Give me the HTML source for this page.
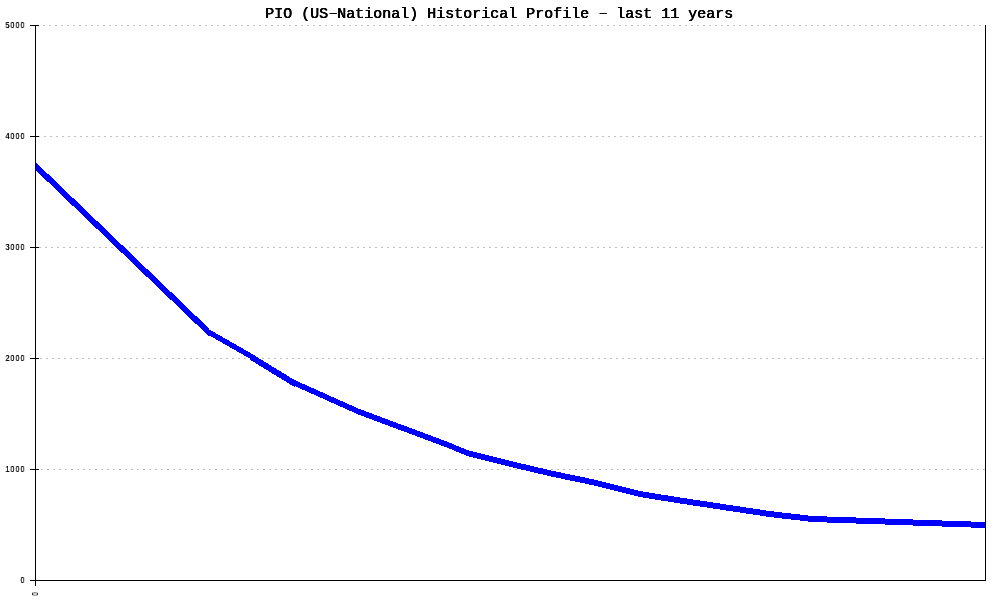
<!DOCTYPE html>
<html lang="en"><head><meta charset="utf-8"><title>PIO (US-National) Historical Profile</title>
<style>
html,body{margin:0;padding:0;background:#fff;overflow:hidden}
body{width:1000px;height:600px;position:relative}
svg{position:absolute;left:0;top:0;display:block}
.t,.s,.r{position:absolute;margin:0;padding:0;color:#000;white-space:pre;will-change:transform}
.t{left:265.0px;top:7.0px;font:15px/15px "Liberation Mono",monospace;text-shadow:.5px 0 0 #000,0 0 0 #000}
.d{display:inline-block;transform:translate(.4px,-1px) scale(1.6,.7);transform-origin:50% 6px}
.s{left:0;width:25.5px;text-align:right;font:8.5px/10px "Liberation Sans",sans-serif;letter-spacing:1.155px;text-shadow:0 0 0 #000;transform:scaleX(.85);transform-origin:100% 50%}
.r{left:30px;top:588.5px;width:10px;height:10px;text-align:center;font:8.5px/10px "Liberation Sans",sans-serif;text-shadow:0 0 0 #000;transform:rotate(-90deg) scaleX(.7);transform-origin:5px 5px}
</style></head><body>
<svg width="1000" height="600" viewBox="0 0 1000 600">
<rect x="0" y="0" width="1000" height="600" fill="#ffffff"/>
<g shape-rendering="crispEdges" stroke="#c0c0c0" stroke-width="1" fill="none">
<line x1="37" y1="25.5" x2="985" y2="25.5" stroke-dasharray="2 4"/>
<line x1="38" y1="136.5" x2="985" y2="136.5" stroke-dasharray="2 4"/>
<line x1="39" y1="247.5" x2="985" y2="247.5" stroke-dasharray="2 4"/>
<line x1="40" y1="358.5" x2="985" y2="358.5" stroke-dasharray="2 4"/>
<line x1="41" y1="469.5" x2="985" y2="469.5" stroke-dasharray="2 4"/>
</g>
<path fill="#0000ff" shape-rendering="crispEdges" d="M36 163H37V164H38V165H39V166H40V167H41V168H42V169H43V170H44V171H45V172H46V173H47V174H49V175H50V176H51V177H52V178H53V179H54V180H55V181H56V182H57V183H58V184H59V185H60V186H61V187H62V188H63V189H64V190H65V191H66V192H67V193H68V194H69V195H70V196H71V197H72V198H74V199H75V200H76V201H77V202H78V203H79V204H80V205H81V206H82V207H83V208H84V209H85V210H86V211H87V212H88V213H89V214H90V215H91V216H92V217H93V218H94V219H95V220H96V221H98V222H99V223H100V224H101V225H102V226H103V227H104V228H105V229H106V230H107V231H108V232H109V233H110V234H111V235H112V236H113V237H114V238H115V239H116V240H117V241H118V242H119V243H120V244H121V245H123V246H124V247H125V248H126V249H127V250H128V251H129V252H130V253H131V254H132V255H133V256H134V257H135V258H136V259H137V260H138V261H139V262H140V263H141V264H142V265H143V266H144V267H145V268H146V269H148V270H149V271H150V272H151V273H152V274H153V275H154V276H155V277H156V278H157V279H158V280H159V281H160V282H161V283H162V284H163V285H164V286H165V287H166V288H167V289H168V290H169V291H170V292H172V293H173V294H174V295H175V296H176V297H177V298H178V299H179V300H180V301H181V302H182V303H183V304H184V305H185V306H186V307H187V308H188V309H189V310H190V311H191V312H192V313H193V314H194V315H195V316H197V317H198V318H199V319H200V320H201V321H202V322H203V323H204V324H205V325H206V326H207V327H208V328H209V330H211V331H213V332H215V333H216V334H218V335H220V336H222V337H223V338H225V339H227V340H229V341H230V342H232V343H234V344H236V345H237V346H239V347H241V348H243V349H244V350H246V351H248V352H250V353H251V354H253V355H255V356H256V357H258V358H259V359H261V360H263V361H264V362H266V363H268V364H269V365H271V366H272V367H274V368H276V369H277V370H279V371H281V372H282V373H284V374H286V375H287V376H289V377H290V378H292V379H294V380H296V381H298V382H300V383H302V384H305V385H307V386H309V387H311V388H314V389H316V390H318V391H320V392H323V393H325V394H327V395H329V396H331V397H334V398H336V399H338V400H340V401H343V402H345V403H347V404H349V405H352V406H354V407H356V408H358V409H361V410H364V411H366V412H369V413H372V414H374V415H377V416H380V417H382V418H385V419H388V420H390V421H393V422H396V423H398V424H401V425H404V426H407V427H409V428H412V429H415V430H417V431H420V432H423V433H425V434H428V435H431V436H433V437H436V438H439V439H441V440H444V441H447V442H449V443H452V444H454V445H456V446H459V447H461V448H464V449H466V450H469V451H473V452H477V453H481V454H485V455H489V456H493V457H497V458H501V459H505V460H509V461H513V462H517V463H521V464H526V465H530V466H534V467H538V468H543V469H547V470H551V471H556V472H561V473H565V474H570V475H575V476H580V477H585V478H589V479H594V480H598V481H602V482H606V483H610V484H614V485H618V486H622V487H626V488H630V489H634V490H638V491H643V492H649V493H655V494H661V495H668V496H674V497H680V498H687V499H693V500H700V501H707V502H713V503H720V504H726V505H733V506H740V507H746V508H753V509H760V510H766V511H774V512H782V513H791V514H800V515H808V516H827V517H856V518H885V519H913V520H942V521H971V522H985V528H971V527H942V526H913V525H885V524H856V523H827V522H808V521H800V520H791V519H782V518H774V517H766V516H760V515H753V514H746V513H740V512H733V511H726V510H720V509H713V508H707V507H700V506H693V505H687V504H680V503H674V502H668V501H661V500H655V499H649V498H643V497H638V496H634V495H630V494H626V493H622V492H618V491H614V490H610V489H606V488H602V487H598V486H594V485H589V484H585V483H580V482H575V481H570V480H565V479H561V478H556V477H551V476H547V475H543V474H538V473H534V472H530V471H526V470H521V469H517V468H513V467H509V466H505V465H501V464H497V463H493V462H489V461H485V460H481V459H477V458H473V457H469V456H466V455H464V454H461V453H459V452H456V451H454V450H452V449H449V448H447V447H444V446H441V445H439V444H436V443H433V442H431V441H428V440H425V439H423V438H420V437H417V436H415V435H412V434H409V433H407V432H404V431H401V430H398V429H396V428H393V427H390V426H388V425H385V424H382V423H380V422H377V421H374V420H372V419H369V418H366V417H364V416H361V415H358V414H356V413H354V412H352V411H349V410H347V409H345V408H343V407H340V406H338V405H336V404H334V403H331V402H329V401H327V400H325V399H323V398H320V397H318V396H316V395H314V394H311V393H309V392H307V391H305V390H302V389H300V388H298V387H296V386H295V387H294V386H292V385H290V384H289V383H287V382H286V381H284V380H282V379H281V378H279V377H277V376H276V375H274V374H272V373H271V372H269V371H268V370H266V369H264V368H263V367H261V366H259V365H258V364H256V363H255V362H253V361H251V360H250V358H248V357H246V356H244V355H243V354H241V353H239V352H237V351H236V350H234V349H232V348H230V347H229V346H227V345H225V344H223V343H222V342H220V341H218V340H216V339H215V338H213V337H211V336H208V335H207V334H206V333H205V332H204V331H203V330H202V329H201V328H200V327H199V326H198V325H197V324H195V323H194V322H193V321H192V320H191V319H190V318H189V317H188V316H187V315H186V314H185V313H184V312H183V311H182V310H181V309H180V308H179V307H178V306H177V305H176V304H175V303H174V302H173V301H172V300H170V299H169V298H168V297H167V296H166V295H165V294H164V293H163V292H162V291H161V290H160V289H159V288H158V287H157V286H156V285H155V284H154V283H153V282H152V281H151V280H150V279H149V278H148V277H146V276H145V275H144V274H143V273H142V272H141V271H140V270H139V269H138V268H137V267H136V266H135V265H134V264H133V263H132V262H131V261H130V260H129V259H128V258H127V257H126V256H125V255H124V254H123V253H121V252H120V251H119V250H118V249H117V248H116V247H115V246H114V245H113V244H112V243H111V242H110V241H109V240H108V239H107V238H106V237H105V236H104V235H103V234H102V233H101V232H100V231H99V230H98V229H96V228H95V227H94V226H93V225H92V224H91V223H90V222H89V221H88V220H87V219H86V218H85V217H84V216H83V215H82V214H81V213H80V212H79V211H78V210H77V209H76V208H75V207H74V206H72V205H71V204H70V203H69V202H68V201H67V200H66V199H65V198H64V197H63V196H62V195H61V194H60V193H59V192H58V191H57V190H56V189H55V188H54V187H53V186H52V185H51V184H50V183H49V182H47V181H46V180H45V179H44V178H43V177H42V176H41V175H40V174H39V173H38V172H37V171H36Z"/>
<g shape-rendering="crispEdges" fill="#000">
<rect x="35" y="25" width="1" height="561"/>
<rect x="35" y="580" width="951" height="1"/>
<rect x="985" y="25" width="1" height="556"/>
<rect x="30" y="25" width="9" height="1"/>
<rect x="30" y="136" width="9" height="1"/>
<rect x="30" y="247" width="9" height="1"/>
<rect x="30" y="358" width="9" height="1"/>
<rect x="30" y="469" width="9" height="1"/>
<rect x="30" y="580" width="9" height="1"/>
</g>
</svg>
<div class="t">PIO (US<span class="d">-</span>National) Historical Profile <span class="d">-</span> last 11 years</div>
<div class="s" style="top:20px">5000</div>
<div class="s" style="top:131px">4000</div>
<div class="s" style="top:242px">3000</div>
<div class="s" style="top:353px">2000</div>
<div class="s" style="top:464px">1000</div>
<div class="s" style="top:575px">0</div>
<div class="r">0</div>
</body></html>
